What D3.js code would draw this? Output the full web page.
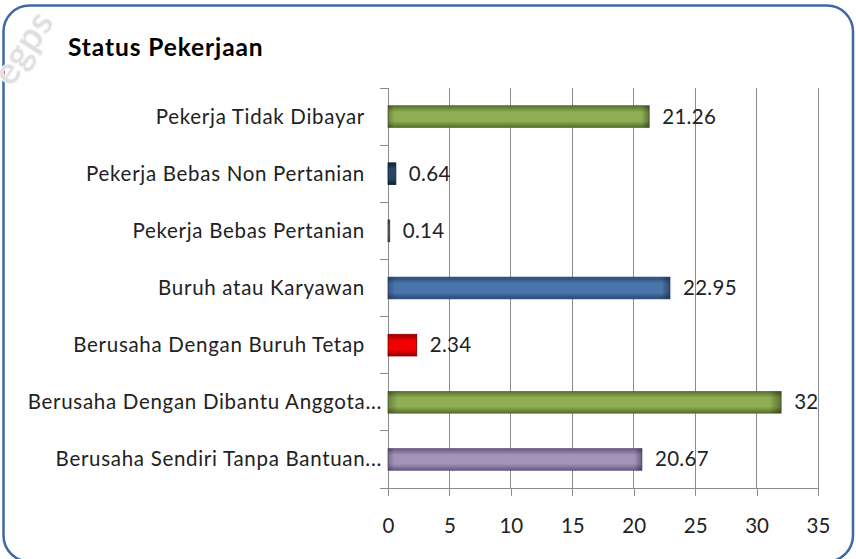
<!DOCTYPE html>
<html><head><meta charset="utf-8">
<script src="https://cdn.jsdelivr.net/npm/d3@7"></script>
<style>html,body{margin:0;padding:0;background:#fff;overflow:hidden}</style>
</head><body>
<script>
const title = "Status Pekerjaan";
const watermark = "egps";
const categories = [
  "Pekerja Tidak Dibayar",
  "Pekerja Bebas Non Pertanian",
  "Pekerja Bebas Pertanian",
  "Buruh atau Karyawan",
  "Berusaha Dengan Buruh Tetap",
  "Berusaha Dengan Dibantu Anggota...",
  "Berusaha Sendiri Tanpa Bantuan..."
];
const values = [21.26, 0.64, 0.14, 22.95, 2.34, 32, 20.67];
const valueLabels = ["21.26", "0.64", "0.14", "22.95", "2.34", "32", "20.67"];
const barColors = [
  ["#90ae53", "#56702c"],
  ["#2a4766", "#101f33"],
  ["#6a6a6a", "#333333"],
  ["#4a75aa", "#284a75"],
  ["#f00000", "#980000"],
  ["#90ae53", "#56702c"],
  ["#a393bb", "#6a5a82"]
];
const xTicks = [0, 5, 10, 15, 20, 25, 30, 35];

(function () {
const W = 856, H = 559;
const svg = d3.select("body").append("svg").attr("width", W).attr("height", H);
const defs = svg.append("defs");

const FONT = "Lato, 'Open Sans', sans-serif";

// frame
svg.append("rect").attr("x", 3.5).attr("y", 5.5).attr("width", 849.5).attr("height", 556)
  .attr("rx", 26).attr("ry", 26).attr("fill", "#fff").attr("stroke", "#3f69a3").attr("stroke-width", 2.5);

// faint watermark in the top-left corner
svg.append("text").attr("transform", "translate(12,88) rotate(-57)")
  .attr("font-family", FONT).attr("font-size", 38).attr("font-weight", 700)
  .attr("fill", "#dedede").attr("stroke", "#f4f4f4").attr("stroke-width", 1)
  .text(watermark);

svg.append("text").attr("x", 68).attr("y", 56)
  .attr("font-family", FONT).attr("font-weight", 700).attr("font-size", 24.5)
  .attr("letter-spacing", 0.9)
  .attr("fill", "#000").text(title);

const pL = 388, pR = 818, pT = 88, pB = 488;
const x = d3.scaleLinear().domain([0, 35]).range([pL, pR]);
const y = d3.scaleBand().domain(categories).range([pT, pB]).paddingInner(0.62).paddingOuter(0.31);

// gridlines
svg.append("g").selectAll("line").data(xTicks.filter(d => d > 0)).join("line")
  .attr("x1", d => x(d)).attr("x2", d => x(d)).attr("y1", pT).attr("y2", pB)
  .attr("stroke", "#8c8c8c").attr("stroke-width", 1).attr("shape-rendering", "crispEdges");

// x axis
const xAxis = svg.append("g").attr("transform", `translate(0,${pB})`)
  .call(d3.axisBottom(x).tickValues(xTicks).tickSize(8).tickPadding(22).tickSizeOuter(0));
xAxis.select(".domain").remove();
xAxis.selectAll(".tick line").attr("stroke", "#8c8c8c").attr("shape-rendering", "crispEdges");
xAxis.selectAll(".tick text").attr("font-family", FONT).attr("font-size", 20.5).attr("fill", "#222");
svg.append("line").attr("x1", pL - 8).attr("x2", pR).attr("y1", pB).attr("y2", pB)
  .attr("stroke", "#8c8c8c").attr("shape-rendering", "crispEdges");

// y axis
const step = (pB - pT) / categories.length;
svg.append("line").attr("x1", pL).attr("x2", pL).attr("y1", pT).attr("y2", pB)
  .attr("stroke", "#8c8c8c").attr("shape-rendering", "crispEdges");
svg.append("g").selectAll("line").data(d3.range(categories.length)).join("line")
  .attr("x1", pL - 8).attr("x2", pL).attr("y1", i => pT + i * step).attr("y2", i => pT + i * step)
  .attr("stroke", "#8c8c8c").attr("shape-rendering", "crispEdges");

svg.append("g").selectAll("text").data(categories).join("text")
  .attr("x", d => d.endsWith("...") ? 382 : 365)
  .attr("y", d => y(d) + y.bandwidth() / 2 + 7)
  .attr("text-anchor", "end").attr("font-family", FONT).attr("font-size", 20.5)
  .attr("letter-spacing", 0.7).attr("fill", "#222")
  .text(d => d);

// gradients
barColors.forEach((c, i) => {
  const gv = defs.append("linearGradient").attr("id", "gv" + i).attr("x1", 0).attr("y1", 0).attr("x2", 0).attr("y2", 1);
  gv.append("stop").attr("offset", "0%").attr("stop-color", c[1]);
  gv.append("stop").attr("offset", "30%").attr("stop-color", c[0]);
  gv.append("stop").attr("offset", "70%").attr("stop-color", c[0]);
  gv.append("stop").attr("offset", "100%").attr("stop-color", c[1]);
});
const gh = defs.append("linearGradient").attr("id", "gh").attr("gradientUnits", "objectBoundingBox")
  .attr("x1", 0).attr("y1", 0).attr("x2", 1).attr("y2", 0);
gh.append("stop").attr("offset", "0%").attr("stop-color", "#000").attr("stop-opacity", 0.25);
gh.append("stop").attr("offset", "2.5%").attr("stop-color", "#000").attr("stop-opacity", 0);
gh.append("stop").attr("offset", "97%").attr("stop-color", "#000").attr("stop-opacity", 0);
gh.append("stop").attr("offset", "100%").attr("stop-color", "#000").attr("stop-opacity", 0.35);

const bars = svg.append("g").selectAll("g").data(categories).join("g");
bars.append("rect")
  .attr("x", x(0)).attr("y", d => y(d))
  .attr("width", (d, i) => x(values[i]) - x(0)).attr("height", y.bandwidth())
  .attr("fill", (d, i) => `url(#gv${i})`)
  .attr("stroke", (d, i) => barColors[i][1]).attr("stroke-width", 0.8);
bars.append("rect")
  .attr("x", x(0)).attr("y", d => y(d))
  .attr("width", (d, i) => x(values[i]) - x(0)).attr("height", y.bandwidth())
  .attr("fill", "url(#gh)");

svg.append("g").selectAll("text").data(categories).join("text")
  .attr("x", (d, i) => x(values[i]) + 13)
  .attr("y", d => y(d) + y.bandwidth() / 2 + 7)
  .attr("font-family", FONT).attr("font-size", 20.5).attr("letter-spacing", 0.3).attr("fill", "#222")
  .text((d, i) => valueLabels[i]);
})();
</script>
</body></html>
